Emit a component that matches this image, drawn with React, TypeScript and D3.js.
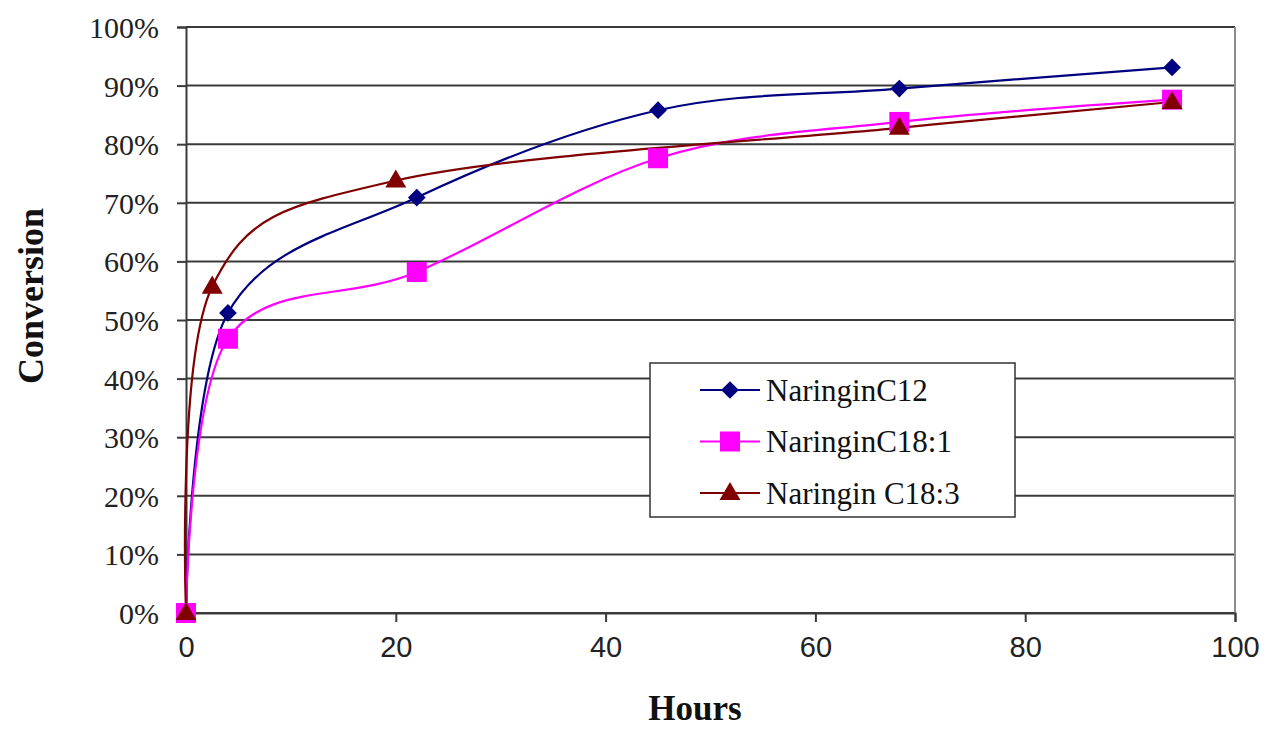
import { useEffect, useRef } from "react";
import * as d3 from "d3";

// hours / conversion
const hoursC12 = [0, 4, 22, 45, 68, 94];
const conversionC12 = [0, 0.512, 0.709, 0.858, 0.895, 0.931];

const hoursC181 = [0, 4, 22, 45, 68, 94];
const conversionC181 = [0, 0.468, 0.582, 0.776, 0.838, 0.876];

const hoursC183 = [0, 2.5, 20, 68, 94];
const conversionC183 = [0, 0.557, 0.738, 0.828, 0.872];

const seriesNames = ["NaringinC12", "NaringinC18:1", "Naringin C18:3"];
const xTicks = [0, 20, 40, 60, 80, 100];
const yTicks = [0, 0.1, 0.2, 0.3, 0.4, 0.5, 0.6, 0.7, 0.8, 0.9, 1];

interface Pt {
    x: number;
    y: number;
}

const W = 1267;
const H = 729;

const App = () => {
    const svgRef = useRef<SVGSVGElement>(null);

    useEffect(() => {
        document.body.style.margin = "0";
        if (!svgRef.current) return;
        const svg = d3.select(svgRef.current);
        svg.selectAll("*").remove();

        const left = 186, right = 1235, top = 27, bottom = 613;

        const x = d3.scaleLinear().domain([0, 100]).range([left, right]);
        const y = d3.scaleLinear().domain([0, 1]).range([bottom, top]);

        svg.append("rect").attr("width", W).attr("height", H).attr("fill", "#fff");

        // gridlines
        svg.append("g")
            .selectAll("line")
            .data(yTicks)
            .enter()
            .append("line")
            .attr("x1", left)
            .attr("x2", right)
            .attr("y1", d => y(d))
            .attr("y2", d => y(d))
            .attr("stroke", "#3a3a3a")
            .attr("stroke-width", 2);

        // right frame
        svg.append("line")
            .attr("x1", right).attr("x2", right)
            .attr("y1", top).attr("y2", bottom)
            .attr("stroke", "#8c8c8c").attr("stroke-width", 2);

        // y axis
        const yAxis = svg.append("g")
            .attr("transform", `translate(${left},0)`)
            .call(d3.axisLeft(y).tickValues(yTicks).tickFormat(d3.format(".0%")).tickSize(9).tickPadding(18));
        yAxis.select(".domain").attr("stroke", "#3a3a3a").attr("stroke-width", 2);
        yAxis.selectAll(".tick line").attr("stroke", "#3a3a3a").attr("stroke-width", 2);
        yAxis.selectAll("text")
            .attr("font-family", "'Liberation Serif', 'Times New Roman', serif")
            .attr("font-size", 30)
            .attr("fill", "#222")
            .attr("dy", "0.35em");

        // x axis
        const xAxis = svg.append("g")
            .attr("transform", `translate(0,${bottom})`)
            .call(d3.axisBottom(x).tickValues(xTicks).tickFormat(d3.format("d")).tickSize(9).tickPadding(14));
        xAxis.select(".domain").attr("stroke", "#3a3a3a").attr("stroke-width", 2);
        xAxis.selectAll(".tick line").attr("stroke", "#3a3a3a").attr("stroke-width", 2);
        xAxis.selectAll("text")
            .attr("font-family", "'Liberation Sans', Arial, sans-serif")
            .attr("font-size", 29)
            .attr("fill", "#222");

        // axis titles
        svg.append("text")
            .attr("transform", `translate(43,296) rotate(-90)`)
            .attr("text-anchor", "middle")
            .attr("font-family", "'Liberation Serif', 'Times New Roman', serif")
            .attr("font-weight", "bold")
            .attr("font-size", 36)
            .attr("fill", "#111")
            .text("Conversion");

        svg.append("text")
            .attr("x", 695)
            .attr("y", 720)
            .attr("text-anchor", "middle")
            .attr("font-family", "'Liberation Serif', 'Times New Roman', serif")
            .attr("font-weight", "bold")
            .attr("font-size", 35)
            .attr("fill", "#111")
            .text("Hours");

        const series = [
            { name: seriesNames[0], color: "#000080", marker: "diamond", pts: hoursC12.map((h, i) => ({ x: h, y: conversionC12[i] })) },
            { name: seriesNames[1], color: "#ff00ff", marker: "square", pts: hoursC181.map((h, i) => ({ x: h, y: conversionC181[i] })) },
            { name: seriesNames[2], color: "#800000", marker: "triangle", pts: hoursC183.map((h, i) => ({ x: h, y: conversionC183[i] })) },
        ];

        const line = d3.line<Pt>()
            .x(d => x(d.x))
            .y(d => y(d.y))
            .curve(d3.curveCardinal.tension(0));

        const symbolFor = (m: string) => {
            if (m === "diamond") return d3.symbol().type(d3.symbolDiamond2).size(200)();
            if (m === "square") return d3.symbol().type(d3.symbolSquare).size(400)();
            return d3.symbol().type(d3.symbolTriangle).size(190)();
        };

        series.forEach(s => {
            svg.append("path")
                .datum(s.pts)
                .attr("fill", "none")
                .attr("stroke", s.color)
                .attr("stroke-width", 2.2)
                .attr("d", line);
        });

        series.forEach(s => {
            svg.append("g")
                .selectAll("path")
                .data(s.pts)
                .enter()
                .append("path")
                .attr("transform", d => `translate(${x(d.x)},${y(d.y) + (s.marker === "triangle" ? 1 : 0)})`)
                .attr("d", symbolFor(s.marker))
                .attr("fill", s.color);
        });

        // legend
        const lg = svg.append("g");
        lg.append("rect")
            .attr("x", 650).attr("y", 363)
            .attr("width", 365).attr("height", 154)
            .attr("fill", "#fff")
            .attr("stroke", "#333")
            .attr("stroke-width", 1.5);

        series.forEach((s, i) => {
            const cy = 390 + i * 51.5;
            lg.append("line")
                .attr("x1", 700).attr("x2", 760)
                .attr("y1", cy).attr("y2", cy)
                .attr("stroke", s.color).attr("stroke-width", 2.2);
            lg.append("path")
                .attr("transform", `translate(730,${cy + (s.marker === "triangle" ? 1 : 0)})`)
                .attr("d", symbolFor(s.marker))
                .attr("fill", s.color);
            lg.append("text")
                .attr("x", 766)
                .attr("y", cy)
                .attr("dy", "0.35em")
                .attr("font-family", "'Liberation Serif', 'Times New Roman', serif")
                .attr("font-size", 31)
                .attr("fill", "#111")
                .text(s.name);
        });

        svg.attr("width", W).attr("height", H).attr("viewBox", `0 0 ${W} ${H}`);
    }, []);

    return <svg ref={svgRef} width={W} height={H} style={{ display: "block" }} />;
};

export default App;
